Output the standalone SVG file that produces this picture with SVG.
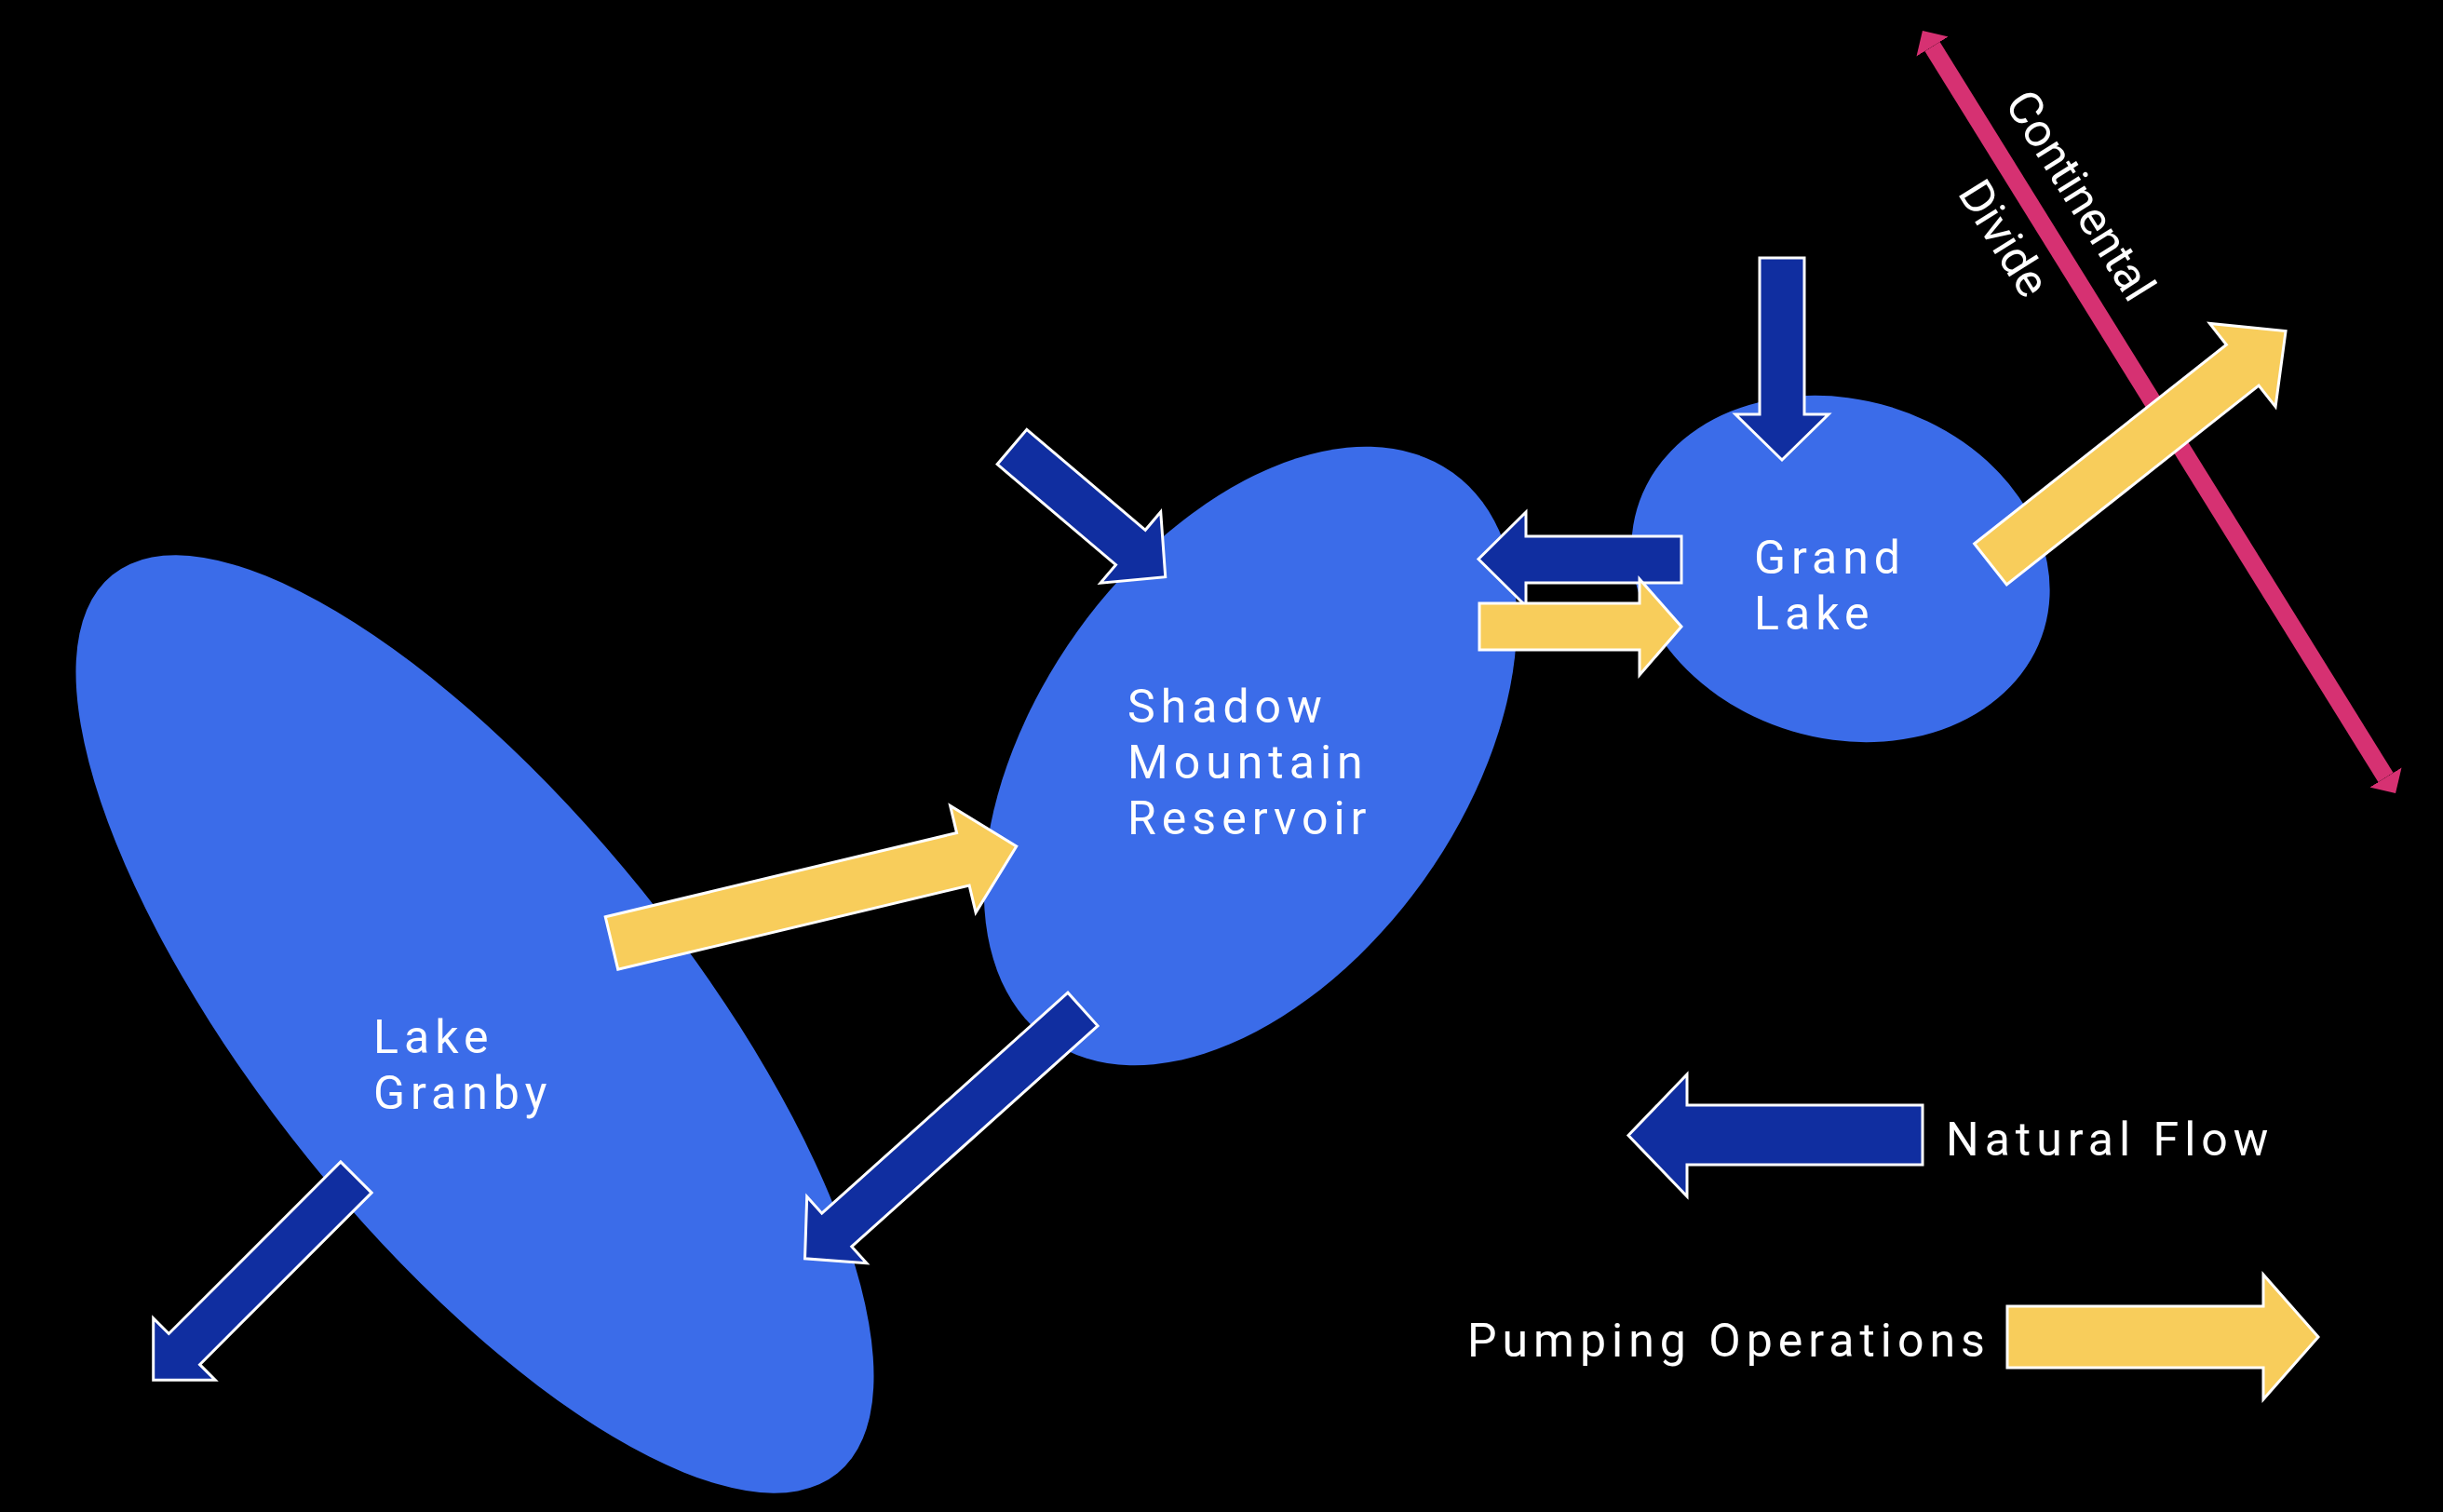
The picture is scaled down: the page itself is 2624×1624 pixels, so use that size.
<svg xmlns="http://www.w3.org/2000/svg" width="2624" height="1624" viewBox="0 0 2624 1624">
<style>
.lake{fill:#3B6CE9}
.flow{fill:#102EA0;stroke:#FFFFFF;stroke-width:3;stroke-linejoin:miter}
.pump{fill:#F8CD5B;stroke:#FFFFFF;stroke-width:3;stroke-linejoin:miter}
.lbl{font-family:Roboto,"Liberation Sans",sans-serif;font-size:50px;fill:#FFFFFF;letter-spacing:6px}
.div{font-family:Roboto,"Liberation Sans",sans-serif;font-size:50px;fill:#FFFFFF;text-anchor:middle}
.divline{stroke:#D63172;stroke-width:19;fill:none}
</style>
<defs>
<marker id="divHead" markerUnits="userSpaceOnUse" markerWidth="20" markerHeight="40" viewBox="0 0 20 40" refX="0" refY="20" orient="auto-start-reverse">
<path d="M0,0 L20,20 L0,40 z" fill="#D63172"/>
</marker>
</defs>
<rect x="0" y="0" width="2624" height="1624" fill="#000000"/>

<g id="node-lake-granby">
<ellipse class="lake" cx="510" cy="1100" rx="620" ry="230" transform="rotate(51.1 510 1100)"/>
<text class="lbl" x="401" y="1131">Lake</text>
<text class="lbl" x="401" y="1191">Granby</text>
</g>

<g id="node-shadow-mountain">
<ellipse class="lake" cx="1343" cy="812" rx="374" ry="229" transform="rotate(-54.5 1343 812)"/>
<text class="lbl" x="1211" y="776">Shadow</text>
<text class="lbl" x="1211" y="836">Mountain</text>
<text class="lbl" x="1211" y="896">Reservoir</text>
</g>

<g id="node-grand-lake">
<ellipse class="lake" cx="1977" cy="611" rx="228" ry="182" transform="rotate(16.5 1977 611)"/>
<text class="lbl" x="1884" y="616">Grand</text>
<text class="lbl" x="1884" y="676">Lake</text>
</g>

<g id="continental-divide">
<path class="divline" d="M2075.5,50 L2562.5,835" marker-start="url(#divHead)" marker-end="url(#divHead)"/>
<text class="div" transform="translate(2220,219) rotate(58)" x="0" y="0">Continental</text>
<text class="div" transform="translate(2138,265) rotate(58)" x="0" y="0">Divide</text>
</g>

<g id="connectors">
<polygon id="flow-into-shadow" class="flow" transform="translate(1087,480) rotate(40.3)" points="0,-24.5 167,-24.5 167,-50 216,0 167,50 167,24.5 0,24.5"/>
<polygon id="flow-into-grand" class="flow" points="1890,277 1938,277 1938,445 1964,445 1914,494 1864,445 1890,445"/>
<polygon id="flow-grand-to-shadow" class="flow" points="1806,576 1639,576 1639,550 1588,600.5 1639,651 1639,626 1806,626"/>
<polygon id="pump-shadow-to-grand" class="pump" points="1589,648 1761,648 1761,622 1806,673 1761,725 1761,698 1589,698"/>
<polygon id="pump-grand-over-divide" class="pump" transform="translate(2138,606) rotate(-38.3)" points="0,-28 345,-28 345,-57 404,0 345,57 345,28 0,28"/>
<polygon id="pump-granby-to-shadow" class="pump" transform="translate(657,1013) rotate(-13.45)" points="0,-29 388,-29 388,-59 447,0 388,59 388,29 0,29"/>
<polygon id="flow-shadow-to-granby" class="flow" transform="translate(1163,1084) rotate(138.1)" points="0,-24 355,-24 355,-48 401,0 355,48 355,24 0,24"/>
<polygon id="flow-out-of-granby" class="flow" transform="translate(382.5,1264.5) rotate(135)" points="0,-23.5 261,-23.5 261,-47 308,0 261,47 261,23.5 0,23.5"/>
</g>

<g id="legend">
<g id="legend-natural">
<polygon class="flow" points="2065,1187 1812,1187 1812,1154 1749,1219.5 1812,1285 1812,1251 2065,1251"/>
<text class="lbl" x="2090" y="1241">Natural Flow</text>
</g>
<g id="legend-pumping">
<polygon class="pump" points="2156,1403 2431,1403 2431,1369 2490,1436 2431,1503 2431,1469 2156,1469"/>
<text class="lbl" x="1576" y="1457">Pumping Operations</text>
</g>
</g>
</svg>
